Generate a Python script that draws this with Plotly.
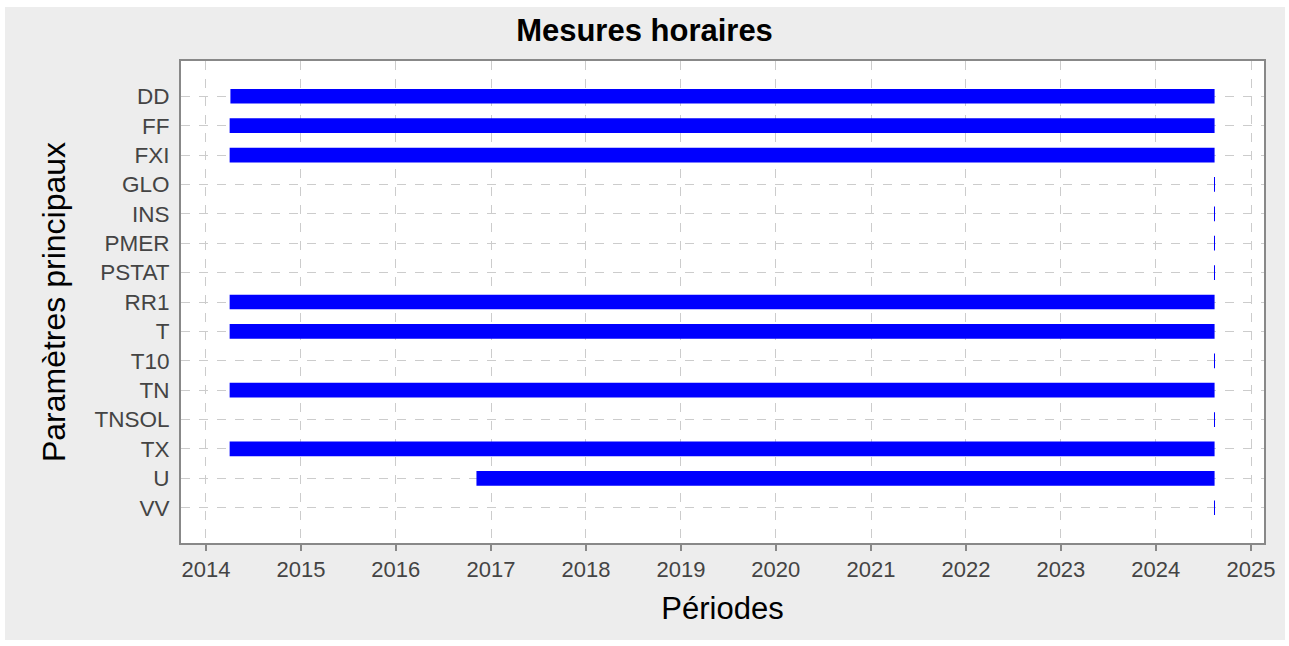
import plotly.graph_objects as go
import pandas as pd

params = ["DD", "FF", "FXI", "GLO", "INS", "PMER", "PSTAT", "RR1", "T", "T10",
          "TN", "TNSOL", "TX", "U", "VV"]
starts = ["2014-04-05", "2014-04-02", "2014-04-02", "2024-08-12", "2024-08-12",
          "2024-08-12", "2024-08-12", "2014-04-02", "2014-04-02", "2024-08-12",
          "2014-04-02", "2024-08-12", "2014-04-02", "2016-11-06", "2024-08-12"]
ends = ["2024-08-14"] * 15

year_ticks = [str(y) for y in range(2014, 2026)]

s = pd.to_datetime(starts)
e = pd.to_datetime(ends)
dur_ms = [(b - a).total_seconds() * 1000 for a, b in zip(s, e)]

fig = go.Figure()
fig.add_trace(go.Bar(
    y=params, x=dur_ms, base=starts, orientation="h",
    marker=dict(color="#0000FF", line=dict(width=0)),
    width=0.5, showlegend=False, hoverinfo="skip",
))

W, H = 1289, 646
L, R, T, B = 181, 25, 61, 103
pw, ph = W - L - R, H - T - B
fig.add_shape(type="rect", xref="paper", yref="paper",
              x0=(5 - L) / pw, x1=(1285 - L) / pw,
              y0=(H - B - 640) / ph, y1=(H - B - 7) / ph,
              fillcolor="#EDEDED", line=dict(width=0), layer="below")
fig.add_shape(type="rect", xref="paper", yref="paper", x0=0, x1=1, y0=0, y1=1,
              fillcolor="white", line=dict(width=0), layer="below")

fig.update_layout(
    width=W, height=H,
    margin=dict(l=L, r=R, t=T, b=B),
    paper_bgcolor="white", plot_bgcolor="rgba(0,0,0,0)",
    font=dict(family="Liberation Sans, Arial, sans-serif", color="#444"),
    title=dict(text="<b>Mesures horaires</b>", x=0.5, xanchor="center",
               y=1 - 30 / H, yanchor="middle",
               font=dict(size=31, color="black")),
    bargap=0.5,
)
fig.update_xaxes(
    type="date",
    range=["2013-09-27", "2025-02-20"],
    tickvals=[f"{y}-01-01" for y in year_ticks], ticktext=year_ticks,
    tickfont=dict(size=22, color="#444"),
    ticks="outside", ticklen=6, tickwidth=2, tickcolor="#888",
    showgrid=True, gridcolor="#CCCCCC", griddash="dash", gridwidth=1,
    showline=True, linecolor="#888", linewidth=2, mirror=True,
    zeroline=False,
    title=dict(text="Périodes", font=dict(size=31, color="black"), standoff=16),
)
fig.update_yaxes(
    categoryorder="array", categoryarray=params,
    range=[15.2, -1.2],
    tickfont=dict(size=22.5, color="#444"),
    ticks="", ticklabelstandoff=5,
    showgrid=True, gridcolor="#CCCCCC", griddash="dash", gridwidth=1,
    showline=True, linecolor="#888", linewidth=2, mirror=True,
    zeroline=False,
    title=dict(text="Paramètres principaux", font=dict(size=32, color="black"), standoff=19),
)

fig.write_html("out.html", config={"displayModeBar": False},
               post_script="document.body.style.margin='0px';")
